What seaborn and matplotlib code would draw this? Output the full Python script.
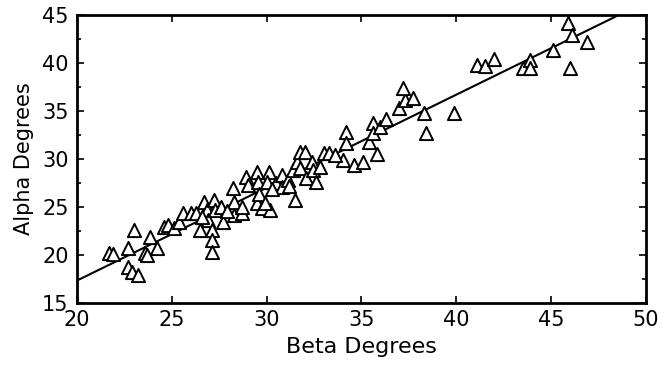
import seaborn as sns
import matplotlib.pyplot as plt
import pandas as pd
from matplotlib.ticker import MultipleLocator

# values
beta = [21.7, 21.9, 22.7, 22.7, 22.9, 23.2, 23.0, 23.6, 23.7, 23.85,
        24.2, 24.6, 24.8, 25.1, 25.4, 25.6, 26.0, 26.3, 26.5, 26.7,
        26.85, 26.9, 27.1, 27.1, 27.1, 27.2, 27.3, 27.6, 27.7, 28.2,
        28.3, 28.3, 28.7, 28.7, 28.9, 29.0, 29.5, 29.55, 29.5, 29.6,
        29.75, 30.1, 30.0, 30.2, 29.9, 30.5, 30.8, 30.8, 31.1, 31.5,
        31.4, 31.6, 31.75, 32.0, 31.75, 32.1, 32.4, 32.45, 32.6, 32.8,
        33.0, 33.3, 34.0, 34.2, 34.2, 34.6, 35.1, 35.4, 35.6, 35.6,
        35.8, 36.0, 36.3, 37.0, 37.3, 37.2, 37.7, 38.3, 38.4, 39.9,
        41.1, 41.5, 42.0, 43.5, 43.9, 43.9, 45.1, 45.9, 46.1, 46.9,
        46.0, 26.6, 27.9, 30.3, 31.2, 33.6]
alpha = [20.2, 20.1, 20.7, 18.75, 18.2, 17.9, 22.6, 20.2, 20.0, 21.9,
         20.7, 22.9, 23.1, 22.8, 23.4, 24.4, 24.4, 24.4, 22.6, 25.5,
         24.7, 23.6, 22.6, 21.6, 20.3, 25.7, 24.7, 25.0, 23.4, 27.0,
         25.5, 24.2, 24.4, 25.0, 28.1, 27.3, 28.6, 27.6, 25.4, 26.4,
         24.9, 28.6, 27.6, 24.7, 25.4, 27.5, 28.3, 27.1, 27.8, 25.7,
         28.9, 29.7, 30.7, 30.7, 29.1, 28.0, 29.7, 28.9, 27.6, 29.2,
         30.6, 30.6, 29.9, 32.8, 31.7, 29.4, 29.7, 31.8, 33.8, 32.7,
         30.5, 33.3, 34.2, 35.3, 36.1, 37.4, 36.4, 34.8, 32.7, 34.8,
         39.8, 39.7, 40.4, 39.5, 40.3, 39.5, 41.4, 44.2, 42.9, 42.2,
         39.5, 24.0, 24.6, 26.9, 27.2, 30.4]

df = pd.DataFrame({"Beta Degrees": beta, "Alpha Degrees": alpha})

sns.set_style("white")
plt.rcParams["font.family"] = ["DejaVu Sans"]
plt.rcParams["text.color"] = "black"
plt.rcParams["axes.labelcolor"] = "black"
plt.rcParams["xtick.color"] = "black"
plt.rcParams["ytick.color"] = "black"

fig = plt.figure(figsize=(6.62, 3.66), dpi=100)
ax = fig.add_axes([0.1163, 0.172, 0.8595, 0.787])
ax.set_xlim(20, 50)
ax.set_ylim(15, 45)

sns.regplot(data=df, x="Beta Degrees", y="Alpha Degrees", ax=ax, ci=None,
            truncate=False, marker="^",
            scatter_kws=dict(s=90, facecolors="white", edgecolors="black",
                             linewidths=1.4, alpha=1, zorder=3),
            line_kws=dict(color="black", lw=1.5, zorder=2))

ax.set_xlim(20, 50)
ax.set_ylim(15, 45)
ax.xaxis.set_major_locator(MultipleLocator(5))
ax.yaxis.set_major_locator(MultipleLocator(5))
ax.yaxis.set_minor_locator(MultipleLocator(2.5))
ax.tick_params(which="both", direction="in", top=True, right=True,
               bottom=True, left=True, labelsize=15)
ax.tick_params(axis="x", pad=5)
ax.tick_params(axis="y", pad=6)
ax.tick_params(which="major", length=5, width=1.2)
ax.tick_params(which="minor", length=3, width=1.2)
for sp in ax.spines.values():
    sp.set_color("black")
    sp.set_linewidth(2)
ax.set_xlabel("Beta Degrees", fontsize=16, labelpad=5)
ax.set_ylabel("Alpha Degrees", fontsize=15, labelpad=6)

fig.savefig("out.png", dpi=100)
